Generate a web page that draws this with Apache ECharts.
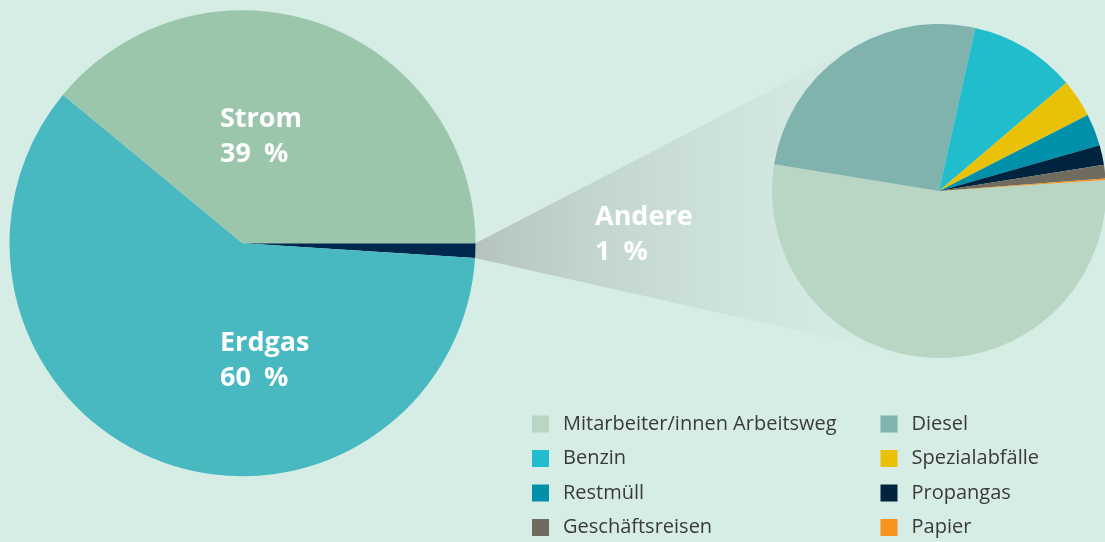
<!DOCTYPE html>
<html>
<head>
<meta charset="utf-8">
<script src="https://cdn.jsdelivr.net/npm/echarts@6/dist/echarts.min.js"></script>
<style>
  html, body { margin: 0; padding: 0; background: #d6ede6; }
  #chart { width: 1105px; height: 542px; }
</style>
</head>
<body>
<div id="chart"></div>
<script>
// Gesamtverbrauch (links) und Aufteilung "Andere" (rechts)
const mainNames = ["Andere", "Erdgas", "Strom"];
const mainValues = [1, 60, 39];

const otherNames = [
  "Mitarbeiter/innen Arbeitsweg", "Diesel",
  "Benzin", "Spezialabfälle",
  "Restmüll", "Propangas",
  "Geschäftsreisen", "Papier"
];
const otherValues = [53.6, 25.9, 10.3, 3.7, 3.1, 1.9, 1.3, 0.15];

const mainColors = ["#00284c", "#49b9c1", "#9bc6ab"];
const otherColors = ["#b9d5c3", "#80b2ae", "#22bdcc", "#e9c106", "#0090a9", "#00233f", "#6f6c5f", "#f7941d"];

// layout
const leftCenter = [242.5, 243.3];
const leftR = 233;
const rightCenter = [939, 191];
const rightR = 167;
const labelPos = { Strom: [220, 137], Erdgas: [220, 361], Andere: [595, 235] };

const chart = echarts.init(document.getElementById("chart"), null, { renderer: "canvas" });

// Verbindungsfläche vom "Andere"-Segment zum rechten Kreis
const total = mainValues.reduce((a, b) => a + b, 0);
const andereAngle = (mainValues[0] / total) * 2 * Math.PI;
const p1 = [leftCenter[0] + leftR, leftCenter[1]];
const p2 = [leftCenter[0] + leftR * Math.cos(andereAngle), leftCenter[1] + leftR * Math.sin(andereAngle)];

function tangentPoint(p, sign) {
  const dx = rightCenter[0] - p[0], dy = rightCenter[1] - p[1];
  const d = Math.hypot(dx, dy);
  const len = Math.sqrt(d * d - rightR * rightR);
  const ang = Math.atan2(dy, dx) + sign * Math.asin(rightR / d);
  return [p[0] + len * Math.cos(ang), p[1] + len * Math.sin(ang)];
}
const t1 = tangentPoint(p1, -1);
const t2 = tangentPoint(p2, 1);

// Prozentzeichen etwas abgesetzt wie im Original
const labelText = (p) => `${p.name}\n{v|${p.value} }{p|%}`;

const option = {
  backgroundColor: "#d6ede6",
  animation: false,
  graphic: [{
    type: "polygon",
    z: 1,
    silent: true,
    shape: { points: [p1, t1, rightCenter, t2, p2] },
    style: {
      fill: new echarts.graphic.LinearGradient(0, 0, 1, 0, [
        { offset: 0, color: "#b4c4bd" },
        { offset: 1, color: "rgba(214,237,230,0.2)" }
      ])
    }
  }],
  legend: {
    data: otherNames,
    orient: "horizontal",
    left: 532,
    top: 412,
    width: 720,
    padding: 0,
    itemWidth: 17,
    itemHeight: 17,
    itemGap: 10.5,
    icon: "rect",
    selectedMode: false,
    textStyle: {
      fontFamily: "Open Sans",
      fontSize: 20,
      color: "#3a3a3a",
      width: 307,
      lineHeight: 24,
      padding: [0, 0, 0, 9]
    }
  },
  series: [
    {
      name: "Gesamt",
      type: "pie",
      z: 2,
      center: leftCenter,
      radius: leftR,
      startAngle: 0,
      clockwise: true,
      silent: true,
      data: mainNames.map((n, i) => ({ name: n, value: mainValues[i], itemStyle: { color: mainColors[i] } })),
      itemStyle: { borderWidth: 0 },
      label: {
        show: true,
        position: "inside",
        formatter: labelText,
        color: "#ffffff",
        fontFamily: "Open Sans",
        fontWeight: "bold",
        fontSize: 27,
        lineHeight: 35,
        rich: {
          v: { color: "#ffffff", fontFamily: "Open Sans", fontWeight: "bold", fontSize: 27, lineHeight: 35 },
          p: { color: "#ffffff", fontFamily: "Open Sans", fontWeight: "bold", fontSize: 27, lineHeight: 35, padding: [0, 0, 0, 6] }
        }
      },
      labelLayout: (params) => {
        const name = mainNames[params.dataIndex];
        const pos = labelPos[name];
        return { x: pos[0], y: pos[1], align: "left", verticalAlign: "middle" };
      },
      labelLine: { show: false }
    },
    {
      name: "Andere",
      type: "pie",
      z: 3,
      center: rightCenter,
      radius: rightR,
      startAngle: 3.8,
      clockwise: true,
      silent: true,
      data: otherNames.map((n, i) => ({ name: n, value: otherValues[i], itemStyle: { color: otherColors[i] } })),
      itemStyle: { borderWidth: 0 },
      label: { show: false },
      labelLine: { show: false }
    }
  ]
};

chart.setOption(option);
</script>
</body>
</html>
